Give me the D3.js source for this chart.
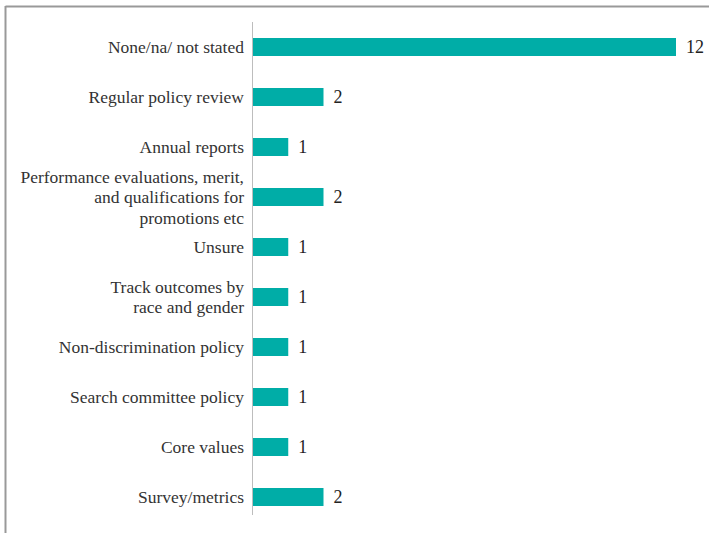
<!DOCTYPE html>
<html>
<head>
<meta charset="utf-8">
<script src="https://cdn.jsdelivr.net/npm/d3@7"></script>
<style>
  html, body { margin: 0; padding: 0; background: #fff; }
  svg { display: block; }
</style>
</head>
<body>
<svg id="chart" width="709" height="533"></svg>
<script>
// Categories (top to bottom), each label split into its display lines
const categories = [
  ["None/na/ not stated"],
  ["Regular policy review"],
  ["Annual reports"],
  ["Performance evaluations, merit,", "and qualifications for", "promotions etc"],
  ["Unsure"],
  ["Track outcomes by", "race and gender"],
  ["Non-discrimination policy"],
  ["Search committee policy"],
  ["Core values"],
  ["Survey/metrics"]
];
const counts = [12, 2, 1, 2, 1, 1, 1, 1, 1, 2];

const svg = d3.select("#chart");
const W = 709, H = 533;
const margin = { top: 22, left: 253, right: 33, bottom: 11 };

const keys = categories.map((c, i) => i);
const y = d3.scaleBand()
  .domain(keys)
  .range([margin.top, margin.top + 500])
  .paddingInner(0.64)
  .paddingOuter(0.32);

const x = d3.scaleLinear()
  .domain([0, 12])
  .range([margin.left, 676]);

// Frame lines (top and left)
svg.append("line")
  .attr("x1", 5.5).attr("x2", W).attr("y1", 6.5).attr("y2", 6.5)
  .attr("stroke", "#999").attr("stroke-width", 2);
svg.append("line")
  .attr("x1", 5.5).attr("x2", 5.5).attr("y1", 6).attr("y2", H)
  .attr("stroke", "#999").attr("stroke-width", 2);

// Bars
svg.append("g").selectAll("rect")
  .data(counts)
  .join("rect")
  .attr("x", x(0))
  .attr("y", (d, i) => y(i))
  .attr("width", d => x(d) - x(0))
  .attr("height", y.bandwidth())
  .attr("fill", "#00ada7");

// Category axis line
svg.append("line")
  .attr("x1", margin.left - 0.5).attr("x2", margin.left - 0.5)
  .attr("y1", margin.top).attr("y2", 515)
  .attr("stroke", "#bdbdbd").attr("stroke-width", 1);

// Category labels
const lineH = 20.5;
const labels = svg.append("g")
  .attr("font-family", "'Liberation Serif', 'DejaVu Serif', serif")
  .attr("font-size", 17.5)
  .attr("fill", "#333")
  .attr("text-anchor", "end");
categories.forEach((lines, i) => {
  const cy = y(i) + y.bandwidth() / 2;
  const t = labels.append("text")
    .attr("x", margin.left - 9)
    .attr("y", cy - (lines.length - 1) * lineH / 2);
  lines.forEach((ln, j) => {
    t.append("tspan")
      .attr("x", margin.left - 9)
      .attr("dy", j === 0 ? "0.35em" : lineH)
      .text(ln);
  });
});

// Value labels
svg.append("g")
  .attr("font-family", "'Liberation Serif', 'DejaVu Serif', serif")
  .attr("font-size", 18)
  .attr("fill", "#222")
  .selectAll("text")
  .data(counts)
  .join("text")
  .attr("x", d => x(d) + 10)
  .attr("y", (d, i) => y(i) + y.bandwidth() / 2)
  .attr("dy", "0.35em")
  .text(d => d);
</script>
</body>
</html>
